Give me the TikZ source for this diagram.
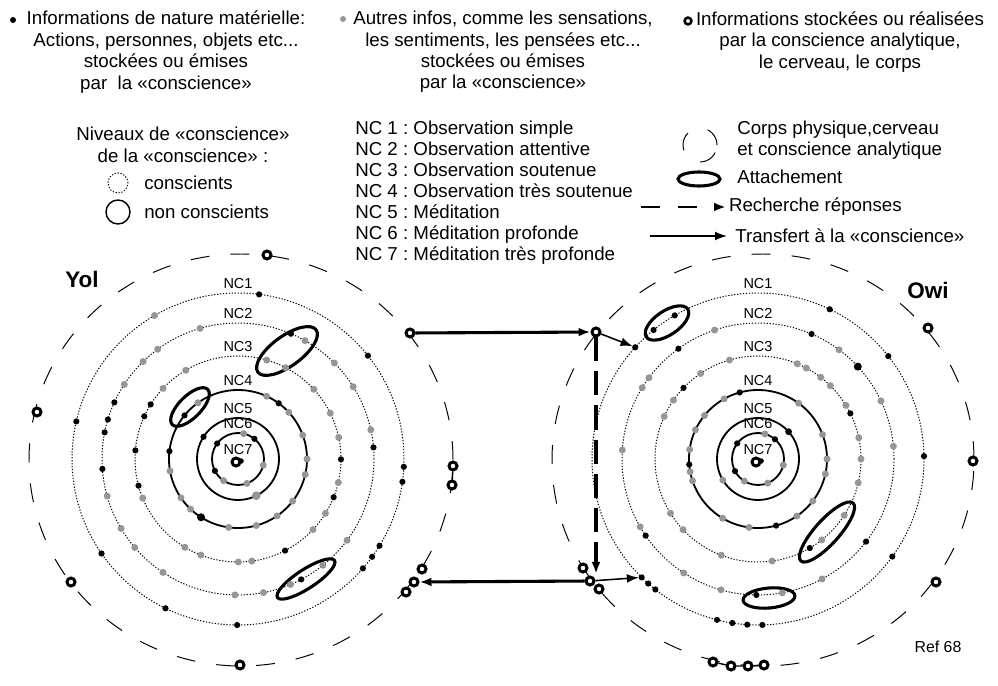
\documentclass[tikz,border=0pt]{standalone}
\usepackage{fontspec}
\setmainfont{Liberation Sans}
\usepackage{tikz}
\usetikzlibrary{positioning,calc,arrows.meta}
\frenchspacing

\definecolor{infogray}{RGB}{150,150,150}

\tikzset{
  ring/.style={circle, draw, fill=white, line width=2.1pt, inner sep=0pt, minimum size=0.2cm},
  consc/.style={line width=0.7pt, dash pattern=on 0.9pt off 1.2pt},
  nonconsc/.style={line width=1.3pt},
  body/.style={line width=0.7pt, dash pattern=on 0.47cm off 0.53cm},
  attach/.style={line width=2.2pt},
  transfert/.style={->, line width=2.2pt},
  recherche/.style={->, line width=2.2pt, dash pattern=on 0.6cm off 0.25cm},
  txt/.style={font=\fontsize{13.3}{15.2}\selectfont, inner sep=0pt},
  nclab/.style={font=\fontsize{10.3}{12}\selectfont, inner sep=0pt}
}

\begin{document}
\begin{tikzpicture}[x=0.025cm, y=0.025cm, >={Latex[length=0.3cm,width=0.22cm]}]

\useasboundingbox (0,0) rectangle (998,685);

% Top row: the three kinds of information
\node[txt, align=center] (matiere) at (166,633) {Informations de nature matérielle:\\Actions, personnes, objets etc...\\stockées ou émises\\par~ la «conscience»};
\fill (13,665) circle (3);
\node[txt, align=center] (autres) at (503,633) {Autres infos, comme les sensations,\\les sentiments, les pensées etc...\\stockées ou émises\\par la «conscience»};
\fill[infogray] (343,666) circle (3);
\node[txt, align=center] (analyt) at (840,643) {Informations stockées ou réalisées\\par la conscience analytique,\\le cerveau, le corps};
\node[ring, minimum size=0.17cm, line width=1.8pt] (puce) at (688,664) {};

% Levels legend
\node[txt, align=center] (niveaux) at (183,540) {Niveaux de «conscience»\\de la «conscience» :};
\draw[consc] (118,502) circle (10);
\node[txt, anchor=west] (lgConsc) at (144,502) {conscients};
\draw[nonconsc, line width=1pt] (118,473) circle (12);
\node[txt, anchor=west] (lgNon) at (144,473) {non conscients};

\node[txt, align=left, anchor=west, font=\fontsize{13.3}{14.9}\selectfont] (nclist) at (355,492)
  {NC 1 : Observation simple\\NC 2 : Observation attentive\\NC 3 : Observation soutenue\\NC 4 : Observation très soutenue\\NC 5 : Méditation\\NC 6 : Méditation profonde\\NC 7 : Méditation très profonde};

% Symbols legend
\draw[body] (700,540) circle (17);
\node[txt, align=left, anchor=west] (lgCorps) at (737,545) {Corps physique,cerveau\\et conscience analytique};
\draw[attach] (699,506) ellipse (21 and 7);
\node[txt, anchor=west] (lgAttach) at (737,508) {Attachement};
\coordinate (lgR) at (641,478);
\node[txt, anchor=west, inner xsep=0.07cm] (lgRech) at (726,478) {Recherche réponses};
\draw[->, line width=2.1pt, dash pattern=on 0.47cm off 0.45cm] (lgR) -- (lgRech.west);
\coordinate (lgT) at (650,449);
\node[txt, anchor=west, inner xsep=0.2cm] (lgTrans) at (727,449) {Transfert à la «conscience»};
\draw[->, line width=1pt] (lgT) -- (lgTrans.west);

\node[font=\fontsize{16}{18}\selectfont\bfseries, inner sep=0pt] (yol) at (82,406) {Yol};
\node[font=\fontsize{16}{18}\selectfont\bfseries, inner sep=0pt] (owi) at (928,395) {Owi};
\node[txt, font=\fontsize{11.3}{13}\selectfont] (ref) at (938,38) {Ref 68};

% Left panel: Yol
\begin{scope}[shift={(238,226)}]
  \draw[body] (3,-1) ellipse (212 and 206);
  \foreach \r in {166,136,103} \draw[consc] (0,0) circle (\r);
  \foreach \r in {69,41,26} \draw[nonconsc] (0,0) circle (\r);
  \foreach \r/\n in {166/1,136/2,103/3,69/4,41/5,26/6,0/7}
    \node[nclab] (yNC\n) at (0,\r+9) {NC\n};
  % attachments
  \draw[attach, rotate around={36:(49,108)}] (49,108) ellipse (36 and 15);
  \draw[attach, rotate around={45:(-48,52)}] (-48,52) ellipse (25 and 11);
  \draw[attach, rotate around={33:(68,-120)}] (68,-120) ellipse (34 and 9.5);
  % material info
  \foreach \a in {82.7,38.5,-2.7,-7.9,-31.5,-36.1,-41.2,-90.3,244.1,214.7,166.9}
    \fill (\a:166) circle (3.1);
  \foreach \a in {155.4,163.1,168.7,184.2,67.1,4.9,-62.3}
    \fill (\a:136) circle (3.1);
  \foreach \a in {-0.2,-21.8,-62.8,195,175.2,155.5,148}
    \fill (\a:103) circle (3.1);
  \foreach \a in {53.9,173.5,140.8}
    \fill (\a:69) circle (3.1);
  \fill (237.6:69) circle (4);
  \fill (147.2:41) circle (3.1);
  \foreach \a in {143.3,50.9,207.2}
    \fill (\a:26) circle (3.1);
  % other info
  \fill[infogray] (120.2:166) circle (3.5);
  \foreach \a in {146.7,134.2,126.2,106.2,60.5,44.9,32.1,12.4,-36.7,-51.4,-67.3,-79.2,-91.3,236.5,220.6,210.7,195.8}
    \fill[infogray] (\a:136) circle (3.5);
  \foreach \a in {73.8,62.4,42.6,26.4,12.1,-13.2,-31.9,-43.3,-82.3,-89.8,248.9,239,202.3,136.7,120.5}
    \fill[infogray] (\a:103) circle (3.5);
  \foreach \a in {65.5,42.6,20.2,0,-13,-37.6,-55.5,-74.6,262.3,226.6,214.2,190,125.5}
    \fill[infogray] (\a:69) circle (3.5);
  \fill[infogray] (-63.6:41) circle (4.4);
  \foreach \a in {77.5,-13.9,-69.8,236.3}
    \fill[infogray] (\a:26) circle (3.5);
  % analytic mind, brain, body
  \node[ring] (yC) at (-2,-3) {};
  \fill (3,-2) circle (2.8);
  \node[ring] (yT) at (29,204) {};
  \node[ring] (yW) at (-201,47) {};
  \node[ring] (ySW) at (-167,-123) {};
  \node[ring] (yS) at (2,-206) {};
  \node[ring] (yR) at (172,126) {};
  \node[ring] (yE1) at (215,-7) {};
  \node[ring] (yE2) at (214,-26) {};
  \node[ring] (yB1) at (184,-110) {};
  \node[ring] (yB2) at (176,-123) {};
  \node[ring] (yB3) at (168,-133) {};
  \draw[line width=1pt] (yE1) -- (yE2);
\end{scope}

% Right panel: Owi
\begin{scope}[shift={(758,226)}]
  \draw[body] (5,-1) ellipse (211 and 206);
  \foreach \r in {166,136,103} \draw[consc] (0,0) circle (\r);
  \foreach \r in {69,41,26} \draw[nonconsc] (0,0) circle (\r);
  \foreach \r/\n in {166/1,136/2,103/3,69/4,41/5,26/6,0/7}
    \node[nclab] (oNC\n) at (0,\r+9) {NC\n};
  % attachments
  \draw[attach, rotate around={34:(-91,136)}] (-91,136) ellipse (25 and 12);
  \draw[attach, rotate around={48:(69,-73)}] (69,-73) ellipse (39 and 12);
  \draw[attach, rotate around={5:(11,-139)}] (11,-139) ellipse (26 and 10);
  % material info
  \foreach \a in {64.4,38.3,1,-36,-88.5,266.3,261.1,255.7,231.8,228.6,225.5,137.7,129,120.1}
    \fill (\a:166) circle (3.1);
  \foreach \a in {66.8,-37.4,-90.7,214.3,125.8}
    \fill (\a:136) circle (3.1);
  \fill (42.8:136) circle (4);
  \foreach \a in {26.3,-59.8,136.3}
    \fill (\a:103) circle (3.1);
  \foreach \a in {105.4,-74.8,184.5}
    \fill (\a:69) circle (3.1);
  \fill (41.7:41) circle (3.4);
  \foreach \a in {143.1,49.3,207.9}
    \fill (\a:26) circle (3.1);
  % other info
  \foreach \a in {108.6,53.4,25.3,5.4,-61.9,-79.7,254.2,236.9,209.9,176.2,148.4,143.3}
    \fill[infogray] (\a:136) circle (3.5);
  \foreach \a in {106.1,67.6,62,52.5,45.4,31.4,11.9,0,-13.4,-33.2,-51.8,-82.1,249.1,223.3,211.8,155.6,145.2,123.9}
    \fill[infogray] (\a:103) circle (3.5);
  \foreach \a in {119.4,54,20.8,0,-12.5,-37.5,-55.7,262.5,239.2,198.4,190.7,172,155,140.9}
    \fill[infogray] (\a:69) circle (3.5);
  \fill[infogray] (211:41) circle (3.5);
  \foreach \a in {74.6,-13.5,-68.3,238.4}
    \fill[infogray] (\a:26) circle (3.5);
  \coordinate (oA) at (137.7:166);
  \coordinate (oD) at (225.5:166);
  \coordinate (qEnd) at (-162,-115);
  % analytic mind, brain, body
  \node[ring] (oC) at (-2,-3) {};
  \fill (3,-2) circle (2.8);
  \node[ring] (oNE) at (170,131) {};
  \node[ring] (oE) at (215,-2) {};
  \node[ring] (oSE) at (178,-123) {};
  \node[ring] (oS1) at (-45,-203) {};
  \node[ring] (oS2) at (-27,-207) {};
  \node[ring] (oS3) at (-10,-207) {};
  \node[ring] (oS4) at (6,-206) {};
  \node[ring] (oL) at (-162,127) {};
  \node[ring] (oB1) at (-175,-109) {};
  \node[ring] (oB2) at (-168,-122) {};
  \node[ring] (oB3) at (-159,-130) {};
  \draw[line width=1pt] (oS1) -- (oS2) -- (oS3) -- (oS4);
\end{scope}

% Transfers between Yol and Owi
\draw[transfert] (yR) -- (oL);
\draw[transfert] (oB2) -- (yB2);
\draw[recherche] (oL) -- (qEnd);
\draw[->, line width=1.1pt, shorten >=0.07cm] (oL) -- (oA);
\draw[->, line width=1.1pt, shorten >=0.07cm] (oB2) -- (oD);

\end{tikzpicture}
\end{document}
